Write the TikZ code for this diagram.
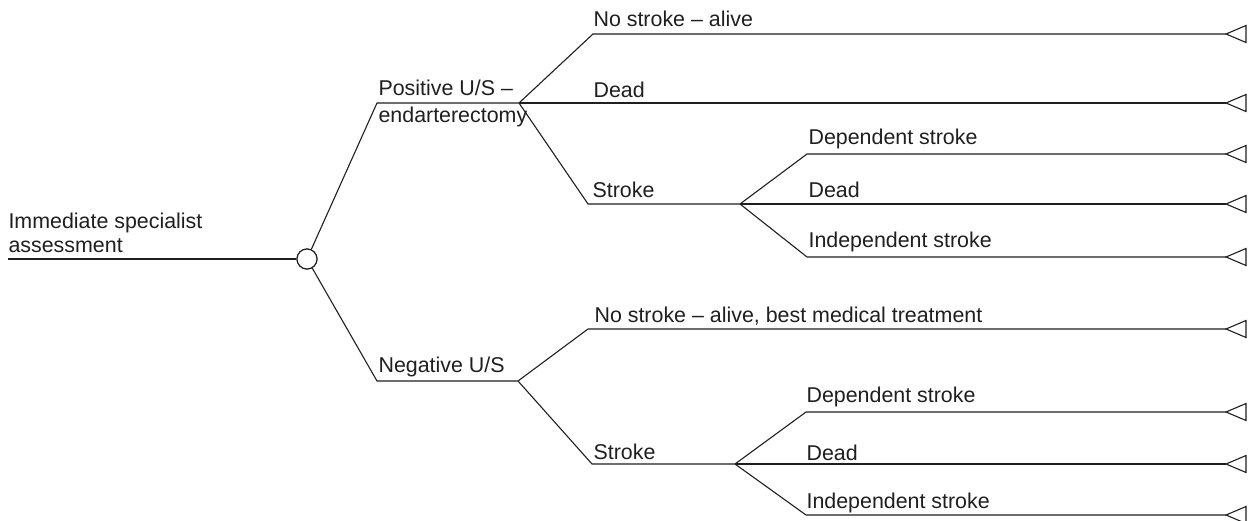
\documentclass[tikz,border=0pt]{standalone}
\usepackage{fontspec}
\setmainfont{Liberation Sans}
\begin{document}
\begin{tikzpicture}[x=1pt,y=-1pt,line width=1.1pt,color=black!88,
  lbl/.style={anchor=base west,inner sep=0pt,font=\fontsize{21.4}{24}\selectfont},
  chance/.style={circle,draw,minimum size=20pt,inner sep=0pt,fill=white},
  term/.pic={\draw[line join=miter] (0,0) -- (20,-8.5) -- (20,8.5) -- cycle;}]
\useasboundingbox (0,0) rectangle (1255,521);
% coordinates
\coordinate (r0) at (8,259);
\node[chance] (c) at (307,259) {};
\coordinate (p0) at (377,103);
\coordinate (p1) at (519,103);
\coordinate (n0) at (377,381);
\coordinate (n1) at (518,381);
% positive subtree
\coordinate (a0) at (593,34);
\coordinate (s0) at (588,204);
\coordinate (s1) at (740,204);
\coordinate (d0) at (807,154);
\coordinate (i0) at (807,257);
% negative subtree
\coordinate (b0) at (588,329);
\coordinate (u0) at (592,464);
\coordinate (u1) at (735,464);
\coordinate (e0) at (806,412);
\coordinate (j0) at (806,515);
% terminal tips
\coordinate (t1) at (1226,34);
\coordinate (t2) at (1226,103);
\coordinate (t3) at (1226,154);
\coordinate (t4) at (1226,204);
\coordinate (t5) at (1226,257);
\coordinate (t6) at (1226,329);
\coordinate (t7) at (1226,412);
\coordinate (t8) at (1226,464);
\coordinate (t9) at (1226,515);
% connectors
\draw (r0) -- (c.west);
\draw (c) -- (p0) -- (p1);
\draw (c) -- (n0) -- (n1);
\draw (p1) -- (a0) -- (t1);
\draw (p1) -- (t2);
\draw (p1) -- (s0) -- (s1);
\draw (s1) -- (d0) -- (t3);
\draw (s1) -- (t4);
\draw (s1) -- (i0) -- (t5);
\draw (n1) -- (b0) -- (t6);
\draw (n1) -- (u0) -- (u1);
\draw (u1) -- (e0) -- (t7);
\draw (u1) -- (t8);
\draw (u1) -- (j0) -- (t9);
\node[chance] at (c) {};
% terminals
\foreach \t in {t1,t2,t3,t4,t5,t6,t7,t8,t9} \pic at (\t) {term};
% labels
\node[lbl] (L0) at (8,229) {Immediate specialist};
\node[lbl] (L0b) at (8,253) {assessment};
\node[lbl] (Lp) at (378,96) {Positive U/S --};
\node[lbl] (Lpb) at (378,123) {endarterectomy};
\node[lbl] (Ln) at (378,372) {Negative U/S};
\node[lbl] (La) at (593,27) {No stroke -- alive};
\node[lbl] (Ld1) at (593,98) {Dead};
\node[lbl] (Ls1) at (592,198) {Stroke};
\node[lbl] (Ldep1) at (808,145) {Dependent stroke};
\node[lbl] (Ld2) at (808,198) {Dead};
\node[lbl] (Lind1) at (808,248) {Independent stroke};
\node[lbl] (Lb) at (594,322) {No stroke -- alive, best medical treatment};
\node[lbl] (Ls2) at (593,459) {Stroke};
\node[lbl] (Ldep2) at (806,402) {Dependent stroke};
\node[lbl] (Ld3) at (806,460) {Dead};
\node[lbl] (Lind2) at (806,508) {Independent stroke};
\end{tikzpicture}
\end{document}
